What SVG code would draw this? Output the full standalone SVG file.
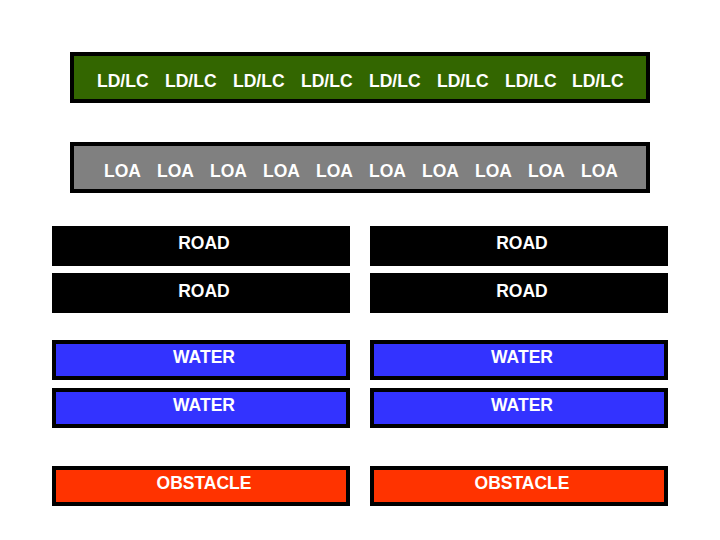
<svg xmlns="http://www.w3.org/2000/svg" width="720" height="540" viewBox="0 0 720 540">
<style>
.b{stroke:#000;stroke-width:4}
.t{font-family:"Liberation Sans",Arial,sans-serif;font-weight:bold;font-size:17.5px;fill:#fff}
.c{text-anchor:middle}
.g{fill:#336600}
.gr{fill:#808080}
.rd{fill:#000}
.w{fill:#3333ff}
.o{fill:#ff3300}
</style>
<rect width="720" height="540" fill="#fff"/>
<g id="ldlc">
<rect class="b g" x="72" y="54" width="576" height="47"/>
<text class="t" y="87"><tspan x="97">LD/LC</tspan><tspan x="165">LD/LC</tspan><tspan x="233">LD/LC</tspan><tspan x="301">LD/LC</tspan><tspan x="369">LD/LC</tspan><tspan x="437">LD/LC</tspan><tspan x="505">LD/LC</tspan><tspan x="572">LD/LC</tspan></text>
</g>
<g id="loa">
<rect class="b gr" x="72" y="144" width="576" height="47"/>
<text class="t" y="177"><tspan x="104">LOA</tspan><tspan x="157">LOA</tspan><tspan x="210">LOA</tspan><tspan x="263">LOA</tspan><tspan x="316">LOA</tspan><tspan x="369">LOA</tspan><tspan x="422">LOA</tspan><tspan x="475">LOA</tspan><tspan x="528">LOA</tspan><tspan x="581">LOA</tspan></text>
</g>
<g id="road1"><rect class="rd" x="52" y="226" width="298" height="40"/><text class="t c" x="204" y="249">ROAD</text></g>
<g id="road2"><rect class="rd" x="370" y="226" width="298" height="40"/><text class="t c" x="522" y="249">ROAD</text></g>
<g id="road3"><rect class="rd" x="52" y="273" width="298" height="40"/><text class="t c" x="204" y="297">ROAD</text></g>
<g id="road4"><rect class="rd" x="370" y="273" width="298" height="40"/><text class="t c" x="522" y="297">ROAD</text></g>
<g id="water1"><rect class="b w" x="54" y="342" width="294" height="36"/><text class="t c" x="204" y="363">WATER</text></g>
<g id="water2"><rect class="b w" x="372" y="342" width="294" height="36"/><text class="t c" x="522" y="363">WATER</text></g>
<g id="water3"><rect class="b w" x="54" y="390" width="294" height="36"/><text class="t c" x="204" y="411">WATER</text></g>
<g id="water4"><rect class="b w" x="372" y="390" width="294" height="36"/><text class="t c" x="522" y="411">WATER</text></g>
<g id="obstacle1"><rect class="b o" x="54" y="468" width="294" height="36"/><text class="t c" x="204" y="489">OBSTACLE</text></g>
<g id="obstacle2"><rect class="b o" x="372" y="468" width="294" height="36"/><text class="t c" x="522" y="489">OBSTACLE</text></g>
<g id="connectors"/>
</svg>
